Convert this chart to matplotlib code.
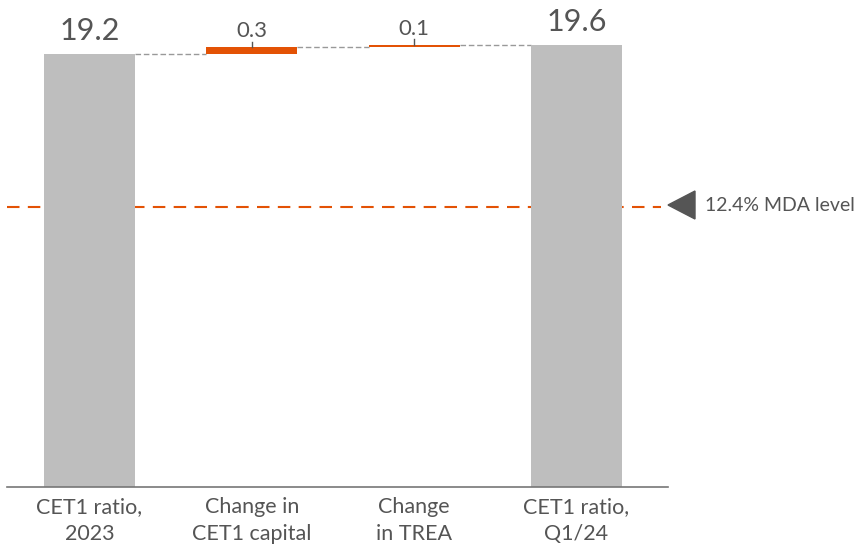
import matplotlib
matplotlib.use("Agg")
import matplotlib.pyplot as plt
from matplotlib.patches import Polygon

categories = ["CET1 ratio,\n2023", "Change in\nCET1 capital", "Change\nin TREA", "CET1 ratio,\nQ1/24"]
values = [19.2, 0.3, 0.1, 19.6]
kinds = ["total", "delta", "delta", "total"]
mda_level = 12.4
mda_label = "12.4% MDA level"

GREY = "#BEBEBE"
ORANGE = "#E35205"
TEXT = "#555555"
FONT = ["Lato", "DejaVu Sans"]

fig = plt.figure(figsize=(8.56, 5.51), dpi=100)
W, H = 856, 551
ax = fig.add_axes([7 / W, (H - 487) / H, (668 - 7) / W, 485 / H])
ax.set_xlim(-0.508, 3.564)
ax.set_ylim(0, 485 / 22.55)
ax.axis("off")

width = 0.56
running = 0.0
tops = []
for i, (v, k) in enumerate(zip(values, kinds)):
    if k == "total":
        ax.bar(i, v, width=width, color=GREY, zorder=2)
        running = v
        top = v
        ax.text(i, top + 0.38, f"{v:.1f}", ha="center", va="bottom",
                fontsize=22, color=TEXT, family=FONT)
    else:
        ax.bar(i, v, bottom=running, width=width, color=ORANGE, zorder=2)
        running += v
        top = running
        ax.plot([i, i], [top, top + 0.25], color=TEXT, lw=1.0, zorder=3)
        ax.text(i, top + 0.28, f"{v:.1f}", ha="center", va="bottom",
                fontsize=16, color=TEXT, family=FONT)
    tops.append(top)

# connectors between consecutive bars
for i in range(len(values) - 1):
    ax.plot([i + width / 2, i + 1 - width / 2], [tops[i], tops[i]],
            color="#999999", lw=1.0, ls=(0, (4, 2)), zorder=1)

# baseline
ax.plot([-0.508, 3.564], [0, 0], color="#777777", lw=1.2, zorder=3, clip_on=False)

# MDA threshold
ax.plot([-0.508, 3.52], [mda_level, mda_level], color=ORANGE, lw=1.5,
        ls=(0, (6, 4)), zorder=1)
tri_x = 668 / W
tri_y = (H - 205) / H
fig.patches.append(Polygon([[tri_x, tri_y], [tri_x + 27 / W, tri_y + 14 / H],
                            [tri_x + 27 / W, tri_y - 14 / H]], closed=True,
                           transform=fig.transFigure, color="#555555"))
fig.text(705 / W, tri_y, mda_label, ha="left", va="center", fontsize=14,
         color=TEXT, family=FONT)

for i, c in enumerate(categories):
    ax.text(i, -0.45, c, ha="center", va="top", fontsize=15.5, color=TEXT,
            family=FONT, linespacing=1.45)

fig.savefig("out.png", dpi=100)
